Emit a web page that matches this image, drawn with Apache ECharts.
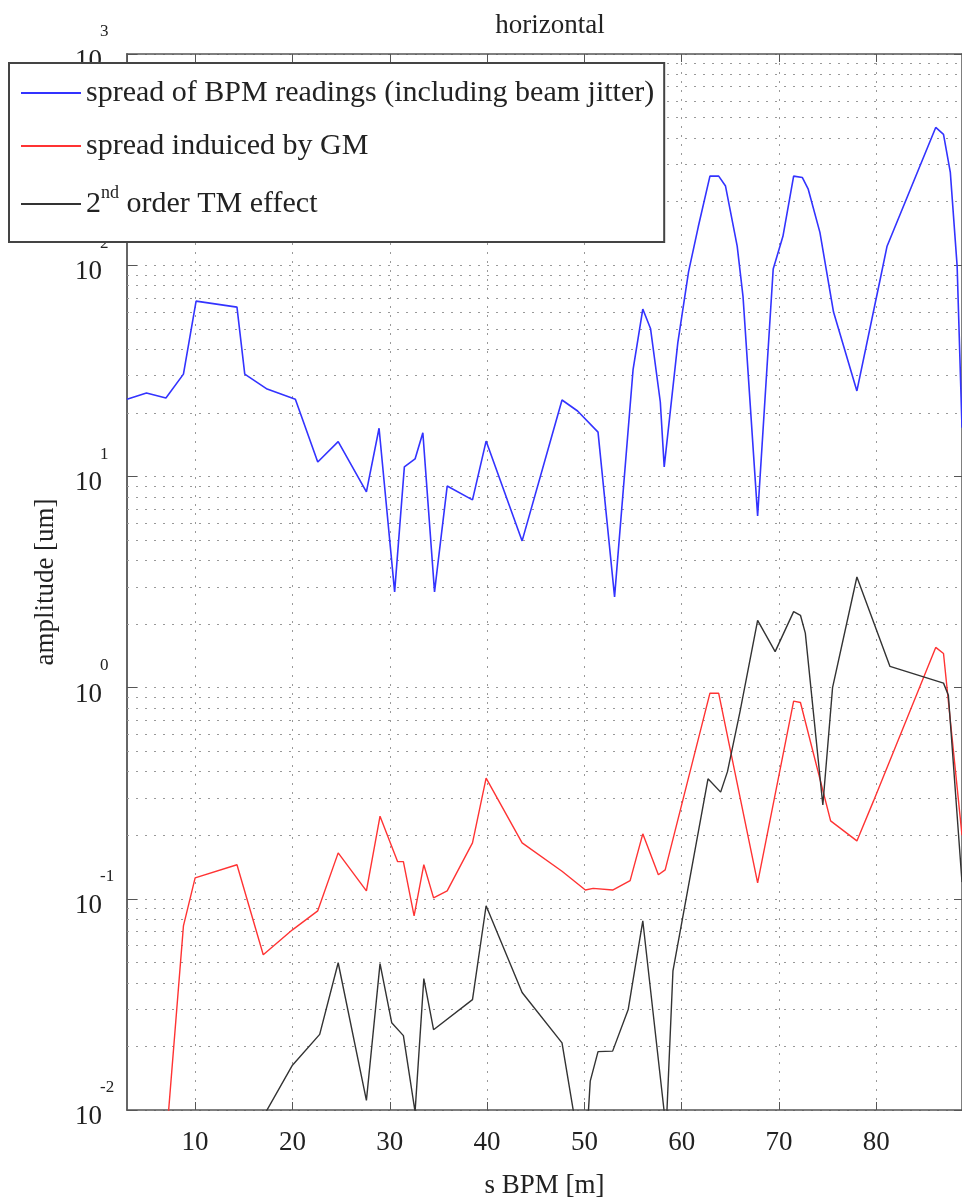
<!DOCTYPE html>
<html>
<head>
    <meta charset="utf-8">
    <title>horizontal</title>
    <script src="https://cdn.jsdelivr.net/npm/echarts@6/dist/echarts.min.js"></script>
</head>
<style>
    html, body {
        margin: 0;
        padding: 0;
        background: #fff;
    }
    .my-chart {
        width: 962px;
        height: 1204px;
    }
</style>
<body>
<div class="my-chart"></div>
<script type="text/javascript">
    // series names (legend)
    var names = ['spread of BPM readings (including beam jitter)', 'spread induiced by GM', '2nd order TM effect'];

    // spread of BPM readings: s [m] / amplitude [um]
    var sBlue = [3.0, 5.0, 7.0, 8.8, 10.1, 14.3, 15.1, 17.4, 20.3, 22.6, 24.7, 27.6, 28.9, 30.5, 31.5, 32.6, 33.4, 34.6, 35.9, 38.5,
        39.9, 43.6, 47.7, 49.3, 51.4, 53.1, 55.0, 56.0, 56.8, 57.8, 58.2, 59.6, 60.7, 61.7, 62.9, 63.8, 64.5, 65.7, 66.3, 67.8,
        69.4, 70.4, 71.5, 72.4, 73.0, 74.2, 75.6, 78.0, 80.4, 81.1, 86.1, 86.9, 87.6, 88.3, 88.8];
    var ampBlue = [23.2, 24.8, 23.5, 30.5, 67.6, 63.3, 30.5, 25.9, 23.2, 11.7, 14.6, 8.45, 16.9, 2.84, 11.1, 12.1, 16.1, 2.84, 9.0, 7.74,
        14.7, 4.95, 23.0, 20.4, 16.2, 2.69, 32, 62, 50, 22.5, 11.1, 43, 93, 152, 264, 264, 237, 123, 71, 6.5,
        96, 137, 264, 260, 229, 143, 60, 25.4, 86, 123, 449, 416, 275, 99, 17];

    // spread induced by GM
    var sRed = [7.0, 8.8, 10.0, 14.3, 17.0, 20.0, 22.6, 24.7, 27.6, 29.0, 30.8, 31.4, 32.5, 33.5, 34.5, 35.9, 38.5, 39.9, 43.6, 47.7,
        50.1, 50.9, 52.9, 54.7, 56.0, 57.6, 58.3, 62.9, 63.8, 67.8, 71.5, 72.2, 75.3, 78.0, 79.7, 86.1, 86.9, 88.8];
    var ampRed = [0.0069, 0.0744, 0.1256, 0.145, 0.0543, 0.0713, 0.0877, 0.165, 0.109, 0.246, 0.150, 0.150, 0.083, 0.145, 0.101, 0.109, 0.184, 0.373, 0.184, 0.135,
        0.110, 0.112, 0.110, 0.122, 0.203, 0.130, 0.137, 0.942, 0.94, 0.119, 0.863, 0.85, 0.234, 0.188, 0.290, 1.55, 1.45, 0.2];

    // 2nd order TM effect
    var sBlack = [14.3, 17.0, 20.0, 22.8, 24.7, 27.6, 29.0, 30.2, 31.4, 32.6, 33.5, 34.5, 38.5, 39.9, 43.6, 47.7, 50.0, 50.6, 51.4, 52.9,
        54.5, 56.0, 58.4, 59.1, 62.7, 64.0, 64.7, 66.0, 67.8, 69.6, 71.5, 72.2, 72.7, 74.5, 75.5, 78.0, 81.4, 86.9, 87.4, 88.8];
    var ampBlack = [0.001, 0.0093, 0.0163, 0.0228, 0.0498, 0.0111, 0.0493, 0.0259, 0.0225, 0.0098, 0.0419, 0.0240, 0.0333, 0.0927, 0.036, 0.0208, 0.0048, 0.0137, 0.0189, 0.019,
        0.0299, 0.0787, 0.0081, 0.0456, 0.37, 0.32, 0.40, 0.774, 2.08, 1.48, 2.29, 2.2, 1.81, 0.278, 1.0, 3.34, 1.26, 1.05, 0.92, 0.12];

    var colors = ['#3333ff', '#ff3333', '#333333'];
    var serif = "'Liberation Serif', 'DejaVu Serif', serif";

    function pairs(xs, ys) {
        return xs.map(function (x, i) { return [x, ys[i]]; });
    }

    // minor log grid lines 2..9 x 10^k
    var minorLines = [];
    for (var k = -2; k <= 2; k++) {
        for (var m = 2; m <= 9; m++) {
            minorLines.push({yAxis: m * Math.pow(10, k)});
        }
    }

    var dotted = {type: [2, 7], color: '#999', width: 1};

    var myChart = echarts.init(document.querySelector('.my-chart'));
    var option = {
        animation: false,
        backgroundColor: '#fff',
        title: {
            text: 'horizontal',
            left: 545,
            textAlign: 'center',
            top: 7,
            textStyle: {fontFamily: serif, fontSize: 27, fontWeight: 'normal', color: '#222'}
        },
        legend: {
            data: names,
            orient: 'vertical',
            left: 9,
            top: 63,
            padding: [15, 10, 18, 12],
            icon: 'rect',
            itemWidth: 60,
            itemHeight: 2,
            itemGap: 23,
            backgroundColor: '#fff',
            borderColor: '#444',
            borderWidth: 2,
            borderRadius: 0,
            formatter: function (name) {
                if (name === names[2]) {
                    return '{t|2}{sup|nd}{t| order TM effect}';
                }
                return name;
            },
            textStyle: {
                fontFamily: serif,
                fontSize: 30,
                lineHeight: 30,
                color: '#222',
                width: 568,
                rich: {
                    t: {fontFamily: serif, fontSize: 30, lineHeight: 40, color: '#222'},
                    sup: {fontFamily: serif, fontSize: 18, lineHeight: 18, verticalAlign: 'top', color: '#222'}
                }
            }
        },
        grid: {left: 127, right: 0, top: 54, bottom: 92},
        xAxis: [{
            type: 'value',
            min: 3,
            max: 88.8,
            splitNumber: 8,
            name: 's BPM [m]',
            nameLocation: 'middle',
            nameGap: 62,
            nameTextStyle: {fontFamily: serif, fontSize: 27, color: '#222'},
            axisLine: {lineStyle: {color: '#555', width: 1.5}},
            axisTick: {inside: true, length: 8, lineStyle: {color: '#555'}},
            axisLabel: {
                showMinLabel: false,
                showMaxLabel: false,
                margin: 19,
                fontFamily: serif,
                fontSize: 27,
                color: '#222'
            },
            splitLine: {show: true, lineStyle: dotted}
        }, {
            type: 'value',
            position: 'top',
            min: 3,
            max: 88.8,
            splitNumber: 8,
            axisLine: {show: true, lineStyle: {color: '#555', width: 1.5}},
            axisTick: {inside: true, length: 8, lineStyle: {color: '#555'}},
            axisLabel: {show: false},
            splitLine: {show: false}
        }],
        yAxis: [{
            type: 'log',
            logBase: 10,
            min: 0.01,
            max: 1000,
            name: 'amplitude [um]',
            nameLocation: 'middle',
            nameRotate: 90,
            nameGap: 68,
            nameTextStyle: {fontFamily: serif, fontSize: 27, color: '#222'},
            axisLine: {show: true, lineStyle: {color: '#666', width: 2}},
            axisTick: {inside: true, length: 10, lineStyle: {color: '#555'}},
            axisLabel: {
                align: 'left',
                margin: 52,
                padding: [0, 0, 6, 0],
                formatter: function (v) {
                    var e = Math.round(Math.log(v) / Math.LN10);
                    return '{e|' + e + '}\n{b|10}';
                },
                rich: {
                    e: {fontFamily: serif, fontSize: 17, lineHeight: 20, padding: [0, 0, 0, 25], color: '#222'},
                    b: {fontFamily: serif, fontSize: 27, lineHeight: 38, color: '#222'}
                }
            },
            splitLine: {show: true, lineStyle: dotted}
        }, {
            type: 'log',
            logBase: 10,
            min: 0.01,
            max: 1000,
            position: 'right',
            axisLine: {show: true, lineStyle: {color: '#555', width: 1.5}},
            axisTick: {inside: true, length: 8, lineStyle: {color: '#555'}},
            axisLabel: {show: false},
            splitLine: {show: false}
        }],
        series: [
            {
                name: 'minor grid',
                type: 'line',
                data: [],
                silent: true,
                markLine: {
                    silent: true,
                    z: 1,
                    symbol: ['none', 'none'],
                    label: {show: false},
                    lineStyle: dotted,
                    data: minorLines
                }
            },
            {
                name: names[0],
                type: 'line',
                symbol: 'none',
                color: colors[0],
                lineStyle: {color: colors[0], width: 1.6},
                data: pairs(sBlue, ampBlue)
            },
            {
                name: names[1],
                type: 'line',
                symbol: 'none',
                color: colors[1],
                lineStyle: {color: colors[1], width: 1.4},
                data: pairs(sRed, ampRed)
            },
            {
                name: names[2],
                type: 'line',
                symbol: 'none',
                color: colors[2],
                lineStyle: {color: colors[2], width: 1.4},
                data: pairs(sBlack, ampBlack)
            }
        ]
    };
    myChart.setOption(option);
</script>
</body>
</html>
